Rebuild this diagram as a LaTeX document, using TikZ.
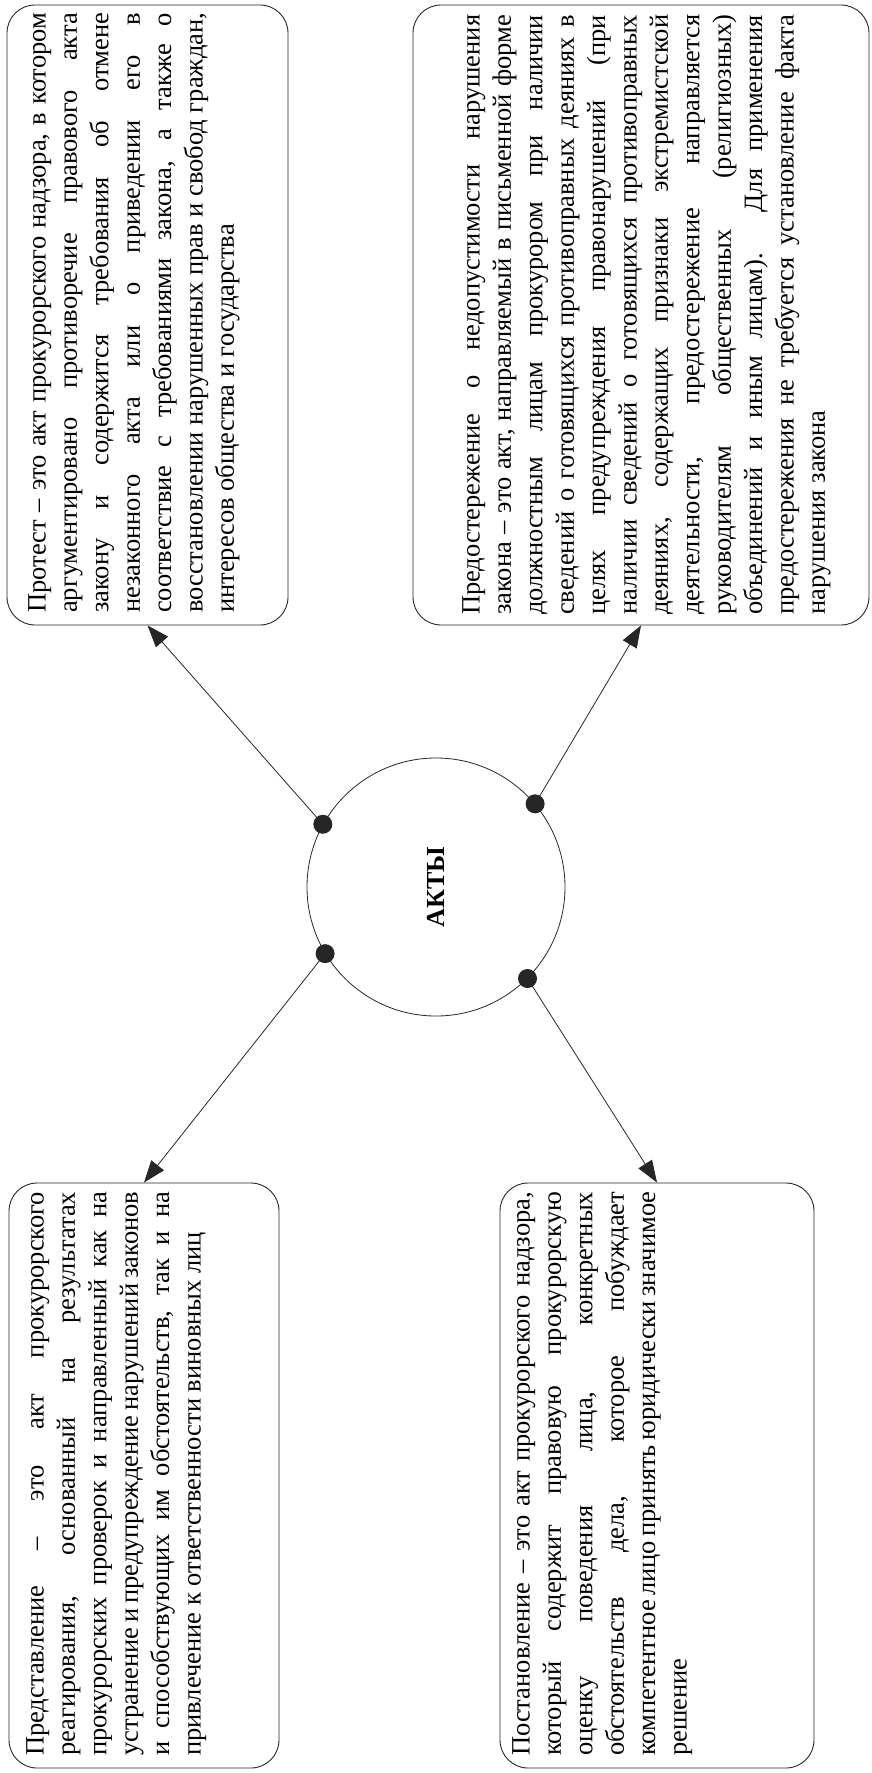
\documentclass[tikz,border=0pt]{standalone}
\usepackage{fontspec}
\setmainfont{Liberation Serif}
\usetikzlibrary{arrows.meta}
\newcommand{\jln}[2]{\makebox[#1][s]{#2}}
\begin{document}
\begin{tikzpicture}[x=1pt,y=1pt,
  box/.style={draw=black!85, line width=0.9pt, rounded corners=28pt, inner sep=0pt},
  txt/.style={rotate=90, anchor=north west, inner sep=0pt, align=left, font=\fontsize{26.5}{31.4}\selectfont},
  dotnode/.style={circle, fill=black!85, inner sep=0pt, minimum size=19pt},
  arr/.style={draw=black!85, line width=0.8pt, -{Triangle[length=22pt,width=16pt]}},
]
\useasboundingbox (0,0) rectangle (871,-1773);
% boxes
\node[box, minimum width=281pt, minimum height=620pt] (b1) at (147.5,-315) {};
\node[box, minimum width=456pt, minimum height=620pt] (b2) at (641,-315) {};
\node[box, minimum width=270pt, minimum height=585pt] (b3) at (144,-1475.5) {};
\node[box, minimum width=314pt, minimum height=585pt] (b4) at (657,-1475.5) {};
% texts
\node[txt] (t1) at (28,-613) {%
\jln{600pt}{Протест – это акт прокурорского надзора, в котором}\\
\jln{600pt}{аргументировано противоречие правового акта}\\
\jln{600pt}{закону и содержится требования об отмене}\\
\jln{600pt}{незаконного акта или о приведении его в}\\
\jln{600pt}{соответствие с требованиями закона, а также о}\\
\jln{600pt}{восстановлении нарушенных прав и свобод граждан,}\\
интересов общества и государства};
\node[txt] (t2) at (462,-615) {%
\jln{600pt}{Предостережение о недопустимости нарушения}\\
\jln{600pt}{закона – это акт, направляемый в письменной форме}\\
\jln{600pt}{должностным лицам прокурором при наличии}\\
\jln{600pt}{сведений о готовящихся противоправных деяниях в}\\
\jln{600pt}{целях предупреждения правонарушений (при}\\
\jln{600pt}{наличии сведений о готовящихся противоправных}\\
\jln{600pt}{деяниях, содержащих признаки экстремистской}\\
\jln{600pt}{деятельности, предостережение направляется}\\
\jln{600pt}{руководителям общественных (религиозных)}\\
\jln{600pt}{объединений и иным лицам). Для применения}\\
\jln{600pt}{предостережения не требуется установление факта}\\
нарушения закона};
\node[txt] (t3) at (26,-1756) {%
\jln{564pt}{Представление – это акт прокурорского}\\
\jln{564pt}{реагирования, основанный на результатах}\\
\jln{564pt}{прокурорских проверок и направленный как на}\\
\jln{564pt}{устранение и предупреждение нарушений законов}\\
\jln{564pt}{и способствующих им обстоятельств, так и на}\\
привлечение к ответственности виновных лиц};
\node[txt] (t4) at (512,-1756) {%
\jln{564pt}{Постановление – это акт прокурорского надзора,}\\
\jln{564pt}{который содержит правовую прокурорскую}\\
\jln{564pt}{оценку поведения лица, конкретных}\\
\jln{564pt}{обстоятельств дела, которое побуждает}\\
\jln{564pt}{компетентное лицо принять юридически значимое}\\
решение};
% centre
\node[draw=black!85, line width=0.8pt, circle, minimum size=258pt, inner sep=0pt] (c) at (436,-887)
  {\rotatebox{90}{\fontsize{26}{30}\selectfont\bfseries АКТЫ}};
\node[dotnode] (d1) at (c.151) {};
\node[dotnode] (d2) at (c.40) {};
\node[dotnode] (d3) at (c.211) {};
\node[dotnode] (d4) at (c.315) {};
\draw[arr] (d1.center) -- (b1.south);
\draw[arr] (d2.center) -- (b2.south);
\draw[arr] (d3.center) -- (b3.north);
\draw[arr] (d4.center) -- (b4.north);
\end{tikzpicture}
\end{document}
